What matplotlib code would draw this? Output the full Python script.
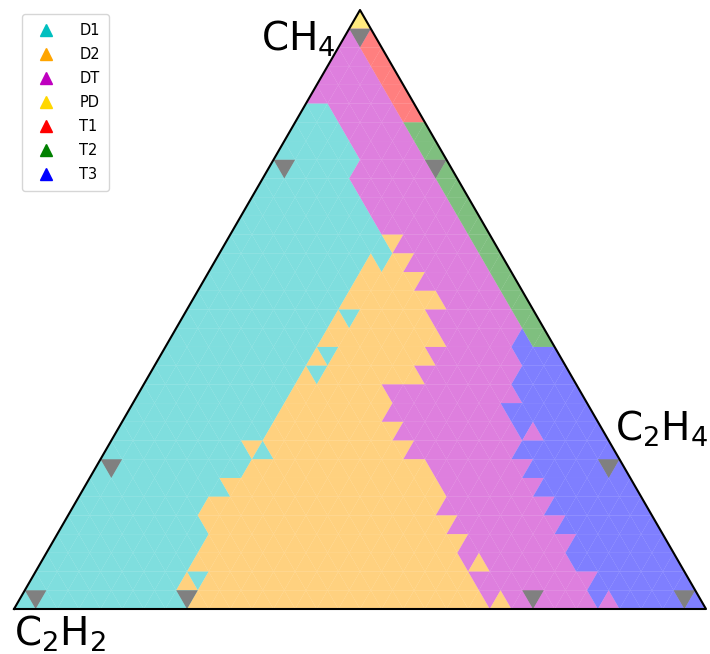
import numpy as np
import matplotlib.pyplot as plt
from matplotlib.collections import PolyCollection
from matplotlib.lines import Line2D

# classes and colours
classes = ['D1', 'D2', 'DT', 'PD', 'T1', 'T2', 'T3']
codes = ['c', 'o', 'm', 'y', 'r', 'g', 'b']
class_colors = ['c', 'orange', 'm', 'gold', 'red', 'green', 'blue']

# predicted class of every small triangle, row by row from the CH4 corner,
# written as runs of (code, count) from the C2H2 side to the C2H4 side
row_runs = [
    "y1", "m2 r1", "m3 r2", "m5 r2", "m7 r2", "c3 m6 r2", "c5 m6 g2",
    "c7 m6 g2", "c8 m7 g2", "c9 m8 g2", "c11 m8 g2", "c13 m8 g2",
    "c15 o1 m7 g2",
    "c14 o1 c1 o2 m7 g2",
    "c14 o6 m7 g2",
    "c14 o9 m6 g2",
    "c14 o1 c1 o7 m8 g2",
    "c14 o11 m7 b1 g2",
    "c14 o1 c1 o9 m8 b4",
    "c14 o1 c1 o9 m9 b5",
    "c14 o9 m12 b6",
    "c14 o10 m11 b8",
    "c14 o12 m11 b1 m1 b6",
    "c13 o1 c1 o13 m10 b9",
    "c14 o17 m9 b9",
    "c13 o20 m9 b9",
    "c12 o22 m10 b9",
    "c13 o23 m10 b9",
    "c14 o24 m10 b9",
    "c14 o25 m1 o1 m8 b10",
    "c14 o1 c1 o25 m11 b9",
    "c16 o27 m1 o1 m8 b1 m1 b8",
]

# sample points (grey markers): row and cell offset from the centre line
sample_rows = [1, 8, 8, 24, 24, 31, 31, 31, 31]
sample_cols = [0, -7, 7, -23, 23, -30, -16, 16, 30]

N = len(row_runs)
H = np.sqrt(3) / 2


def tri(r, k):
    # small triangle in row r (0 at the top), cell offset k
    xc = 0.5 + k / (2 * N)
    yt = H * (1 - r / N)
    yb = H * (1 - (r + 1) / N)
    dx = 1 / (2 * N)
    if (r + k) % 2 == 0:
        return [(xc - dx, yb), (xc + dx, yb), (xc, yt)]
    return [(xc - dx, yt), (xc + dx, yt), (xc, yb)]


polys, cols = [], []
for r, runs in enumerate(row_runs):
    row = ''.join(s[0] * int(s[1:]) for s in runs.split())
    assert len(row) == 2 * r + 1, (r, len(row))
    for i, ch in enumerate(row):
        polys.append(tri(r, i - r))
        cols.append(class_colors[codes.index(ch)])

fig = plt.figure(figsize=(7.1, 6.54), dpi=100)
ax = fig.add_axes([14 / 710, 45 / 654, 692 / 710, 599 / 654])
ax.add_collection(PolyCollection(polys, facecolors=cols, edgecolors='none',
                                 alpha=0.5, antialiased=True))

grey = [tri(r, k) for r, k in zip(sample_rows, sample_cols)]
ax.add_collection(PolyCollection(grey, facecolors='grey', edgecolors='none'))

ax.plot([0, 1, 0.5, 0], [0, 0, H, 0], color='black', lw=1.5, clip_on=False)
ax.set_xlim(0, 1)
ax.set_ylim(0, H)
ax.axis('off')

ax.text(0.465, H - 0.042, 'CH$_4$', fontsize=28, ha='right', va='center')
ax.text(0.869, 0.26, 'C$_2$H$_4$', fontsize=28, ha='left', va='center')
ax.text(0.0, -0.036, 'C$_2$H$_2$', fontsize=28, ha='left', va='center')

handles = [Line2D([], [], marker='^', color=c, linestyle='none', markersize=9)
           for c in class_colors]
fig.legend(handles, classes, loc='upper left', bbox_to_anchor=(15 / 710, 1 - 7 / 654),
           fontsize=10.5, labelspacing=0.62, handletextpad=1.3, borderpad=0.6)

fig.savefig('out.png', dpi=100)
